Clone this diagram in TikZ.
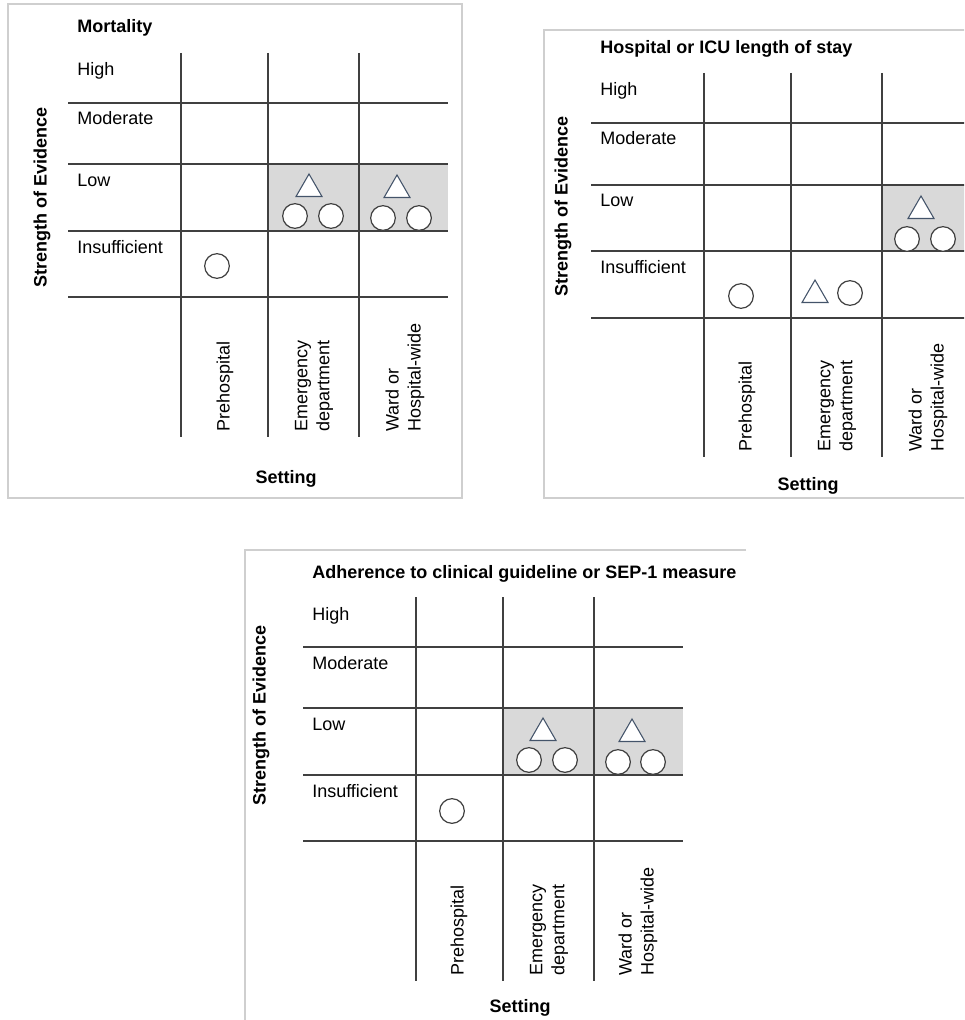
\documentclass[tikz,border=0pt]{standalone}
\usepackage{fontspec}
\setmainfont{Liberation Sans}
\usetikzlibrary{shapes.geometric}
\definecolor{gridgray}{HTML}{404040}
\definecolor{cellgray}{HTML}{D9D9D9}
\definecolor{framegray}{HTML}{CFCFCF}
\definecolor{triblue}{HTML}{44546A}

\begin{document}
\begin{tikzpicture}[x=0.75pt,y=-0.75pt,
  grid/.style={gridgray,line width=1.1pt},
  frame/.style={framegray,line width=0.8pt},
  lvl/.style={anchor=base west,inner sep=0pt,font=\fontsize{13.5}{16}\selectfont},
  ttl/.style={anchor=base west,inner sep=0pt,font=\bfseries\fontsize{13.5}{16}\selectfont},
  axis/.style={inner sep=0pt,font=\bfseries\fontsize{13.5}{16}\selectfont},
  setg/.style={rotate=90,anchor=west,align=left,inner sep=0pt,font=\fontsize{13.5}{16.5}\selectfont},
  ring/.style={circle,draw=gridgray,fill=white,line width=0.9pt,minimum size=18.5pt,inner sep=0pt},
  tri/.style={regular polygon,regular polygon sides=3,draw=triblue,fill=white,line width=0.8pt,minimum size=22.5pt,inner sep=0pt}]

\clip (0,0) rectangle (964,1020);

% Mortality
\draw[frame] (8,4) rectangle (462,498);
\fill[cellgray] (268,164) rectangle (448,231);
\draw[grid] (181,53) -- (181,437) (268,53) -- (268,437) (359,53) -- (359,437)
 (68,103) -- (448,103) (68,164) -- (448,164) (68,231) -- (448,231) (68,297) -- (448,297);
\node[ttl] (mTitle) at (77,33) {Mortality};
\node[lvl] (mHigh) at (77,76) {High};
\node[lvl] (mMod) at (77,125) {Moderate};
\node[lvl] (mLow) at (77,186) {Low};
\node[lvl] (mIns) at (77,253) {Insufficient};
\node[setg] (mPre) at (225,432) {Prehospital};
\node[setg] (mED) at (314,432) {Emergency\\department};
\node[setg] (mWard) at (405,432) {Ward or\\Hospital-wide};
\node[axis,rotate=90] (mSoE) at (42,197) {Strength of Evidence};
\node[axis] (mSet) at (286,479) {Setting};
\node[tri] (mEDt) at (309,189) {};
\node[ring] (mEDa) at (295,216) {};
\node[ring] (mEDb) at (331,216) {};
\node[tri] (mWardt) at (397,190) {};
\node[ring] (mWarda) at (383,218) {};
\node[ring] (mWardb) at (419,218) {};
\node[ring] (mPrea) at (217,266) {};

% Hospital or ICU length of stay
\begin{scope}[shift={(523,20)}]
\draw[frame] (460,10) -- (21,10) -- (21,478) -- (460,478);
\fill[cellgray] (359,165) rectangle (460,231);
\draw[grid] (181,53) -- (181,437) (268,53) -- (268,437) (359,53) -- (359,437)
 (68,103) -- (460,103) (68,165) -- (460,165) (68,231) -- (460,231) (68,298) -- (460,298);
\node[ttl] (hTitle) at (77,34) {Hospital or ICU length of stay};
\node[lvl] (hHigh) at (77,76) {High};
\node[lvl] (hMod) at (77,125) {Moderate};
\node[lvl] (hLow) at (77,186) {Low};
\node[lvl] (hIns) at (77,253) {Insufficient};
\node[setg] (hPre) at (224,432) {Prehospital};
\node[setg] (hED) at (314,432) {Emergency\\department};
\node[setg] (hWard) at (405,432) {Ward or\\Hospital-wide};
\node[axis,rotate=90] (hSoE) at (40,186) {Strength of Evidence};
\node[axis] (hSet) at (285,466) {Setting};
\node[tri] (hWardt) at (398,191) {};
\node[ring] (hWarda) at (384,219) {};
\node[ring] (hWardb) at (420,219) {};
\node[ring] (hPrea) at (218,276) {};
\node[tri] (hEDt) at (292,275) {};
\node[ring] (hEDa) at (327,273) {};
\end{scope}

% Adherence to clinical guideline or SEP-1 measure
\begin{scope}[shift={(235,544)}]
\draw[frame] (511,6) -- (10,6) -- (10,480);
\fill[cellgray] (268,164) rectangle (448,231);
\draw[grid] (181,53) -- (181,437) (268,53) -- (268,437) (359,53) -- (359,437)
 (68,103) -- (448,103) (68,164) -- (448,164) (68,231) -- (448,231) (68,297) -- (448,297);
\node[ttl] (aTitle) at (77,34) {Adherence to clinical guideline or SEP-1 measure};
\node[lvl] (aHigh) at (77,76) {High};
\node[lvl] (aMod) at (77,125) {Moderate};
\node[lvl] (aLow) at (77,186) {Low};
\node[lvl] (aIns) at (77,253) {Insufficient};
\node[setg] (aPre) at (224,432) {Prehospital};
\node[setg] (aED) at (314,432) {Emergency\\department};
\node[setg] (aWard) at (403,432) {Ward or\\Hospital-wide};
\node[axis,rotate=90] (aSoE) at (26,171) {Strength of Evidence};
\node[axis] (aSet) at (285,464) {Setting};
\node[tri] (aEDt) at (308,189) {};
\node[ring] (aEDa) at (294,216) {};
\node[ring] (aEDb) at (330,216) {};
\node[tri] (aWardt) at (397,190) {};
\node[ring] (aWarda) at (383,218) {};
\node[ring] (aWardb) at (418,218) {};
\node[ring] (aPrea) at (217,267) {};
\end{scope}

\end{tikzpicture}
\end{document}
